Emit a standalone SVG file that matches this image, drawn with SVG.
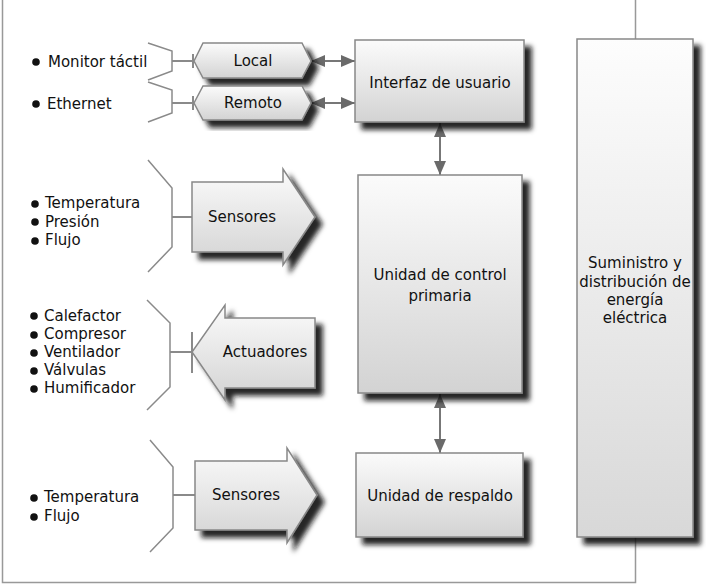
<svg xmlns="http://www.w3.org/2000/svg" width="706" height="585" viewBox="0 0 706 585">
<style>
text{font-family:"DejaVu Sans","Liberation Sans",sans-serif;font-size:15px;fill:#111}
.c{text-anchor:middle}
.box{stroke:#888;stroke-width:1.5;fill:url(#g)}
.br{fill:none;stroke:#8a8a8a;stroke-width:1.5}
.ln{stroke:#8a8a8a;stroke-width:2;fill:none}
.ar{stroke:#777;stroke-width:2;fill:none;marker-start:url(#ah);marker-end:url(#ah)}
.bu{fill:#111}
</style>
<defs>
<linearGradient id="g" x1="0" y1="0" x2="0" y2="1">
<stop offset="0" stop-color="#fbfbfb"/><stop offset="1" stop-color="#d3d3d3"/>
</linearGradient>
<linearGradient id="g2" x1="0" y1="0" x2="0" y2="1">
<stop offset="0" stop-color="#fdfdfd"/><stop offset="1" stop-color="#d8d8d8"/>
</linearGradient>
<filter id="sh" x="-20%" y="-20%" width="150%" height="150%">
<feGaussianBlur in="SourceAlpha" stdDeviation="2.8"/>
<feOffset dx="7" dy="7" result="b"/>
<feFlood flood-color="#111" flood-opacity="0.9"/>
<feComposite in2="b" operator="in"/>
<feMerge><feMergeNode/><feMergeNode in="SourceGraphic"/></feMerge>
</filter>
<marker id="ah" viewBox="0 0 14 12" refX="14" refY="6" markerWidth="14" markerHeight="12" markerUnits="userSpaceOnUse" orient="auto-start-reverse">
<path d="M0,0 L14,6 L0,12 z" fill="#6a6a6a"/>
</marker>
</defs>
<path d="M2.5,0 V582.5 H635.5 V0" fill="none" stroke="#999" stroke-width="1.5"/>

<g id="supply">
<rect x="577" y="39" width="116" height="498" fill="url(#g2)" stroke="#888" stroke-width="1.5" filter="url(#sh)"/>
<text class="c" x="635" y="268">Suministro y</text>
<text class="c" x="635" y="287">distribución de</text>
<text class="c" x="635" y="305">energía</text>
<text class="c" x="635" y="323">eléctrica</text>
</g>

<g id="connectors">
<path class="br" d="M148,43 L172,51 V71 L148,80"/>
<path class="br" d="M148,82 L172,90 V113 L148,122"/>
<path class="br" d="M148,160 L172,188 V247 L148,272"/>
<path class="br" d="M147,300 L170,323 V387 L147,410"/>
<path class="br" d="M150,440 L173,467 V528 L150,552"/>
<path class="ln" d="M172,61 H194 M193,54 V68"/>
<path class="ln" d="M172,103 H194 M193,96 V110"/>
<path class="ln" d="M172,217 H192"/>
<path class="ln" d="M170,352 H192 M192,332 V373"/>
<path class="ln" d="M173,495 H195"/>
<line class="ar" x1="311" y1="61" x2="355" y2="61"/>
<line class="ar" x1="311" y1="103" x2="355" y2="103"/>
<line class="ar" x1="440" y1="123" x2="440" y2="175"/>
<line class="ar" x1="440" y1="394" x2="440" y2="453"/>
</g>

<g id="local">
<path class="box" filter="url(#sh)" d="M194,61 L203,43 H302 L311,61 L302,78 H203 z"/>
<text class="c" x="253" y="66">Local</text>
</g>
<g id="remoto">
<path class="box" filter="url(#sh)" d="M194,103 L203,86 H302 L311,103 L302,120 H203 z"/>
<text class="c" x="253" y="108">Remoto</text>
</g>

<g id="sensores1">
<path class="box" filter="url(#sh)" d="M192,182 H283 V169 L315,217 L283,265 V252 H192 z"/>
<text class="c" x="242" y="222">Sensores</text>
</g>
<g id="actuadores">
<path class="box" filter="url(#sh)" d="M315,318 H225 V305 L192,352 L225,400 V388 H315 z"/>
<text class="c" x="265" y="357">Actuadores</text>
</g>
<g id="sensores2">
<path class="box" filter="url(#sh)" d="M195,461 H287 V448 L317,495 L287,543 V530 H195 z"/>
<text class="c" x="246" y="500">Sensores</text>
</g>

<g id="interfaz">
<rect class="box" filter="url(#sh)" x="355" y="40" width="169" height="82"/>
<text class="c" x="440" y="88">Interfaz de usuario</text>
</g>
<g id="control">
<rect class="box" filter="url(#sh)" x="358" y="175" width="164" height="218"/>
<text class="c" x="440" y="280">Unidad de control</text>
<text class="c" x="440" y="301">primaria</text>
</g>
<g id="respaldo">
<rect class="box" filter="url(#sh)" x="356" y="453" width="167" height="84"/>
<text class="c" x="440" y="501">Unidad de respaldo</text>
</g>

<g id="lists">
<circle class="bu" cx="36" cy="62" r="3.8"/><text x="48" y="67">Monitor táctil</text>
<circle class="bu" cx="36" cy="104" r="3.8"/><text x="47" y="109">Ethernet</text>
<circle class="bu" cx="35" cy="204" r="3.8"/><text x="45" y="208">Temperatura</text>
<circle class="bu" cx="35" cy="222" r="3.8"/><text x="45" y="227">Presión</text>
<circle class="bu" cx="35" cy="241" r="3.8"/><text x="45" y="245">Flujo</text>
<circle class="bu" cx="34" cy="316" r="3.8"/><text x="44" y="321">Calefactor</text>
<circle class="bu" cx="34" cy="335" r="3.8"/><text x="44" y="339">Compresor</text>
<circle class="bu" cx="34" cy="353" r="3.8"/><text x="44" y="357">Ventilador</text>
<circle class="bu" cx="34" cy="371" r="3.8"/><text x="44" y="375">Válvulas</text>
<circle class="bu" cx="34" cy="389" r="3.8"/><text x="44" y="393">Humificador</text>
<circle class="bu" cx="34" cy="498" r="3.8"/><text x="44" y="502">Temperatura</text>
<circle class="bu" cx="34" cy="517" r="3.8"/><text x="44" y="521">Flujo</text>
</g>
</svg>
